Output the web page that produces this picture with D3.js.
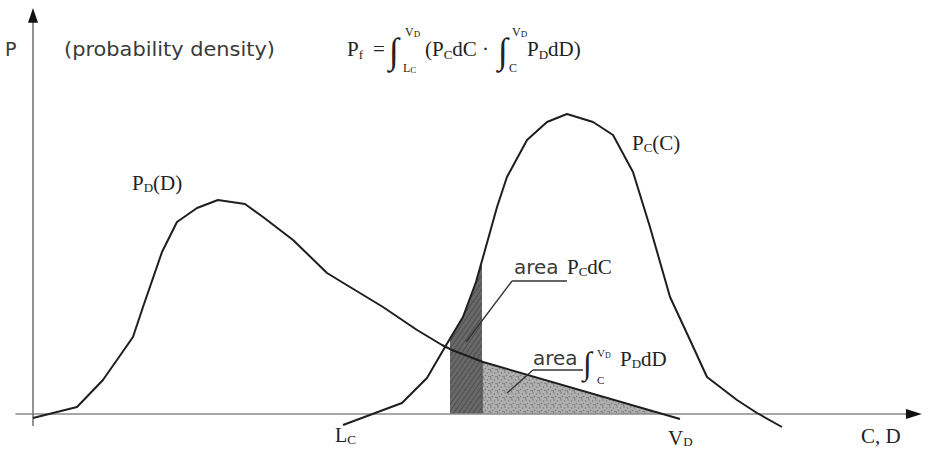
<!DOCTYPE html>
<html>
<head>
<meta charset="utf-8">
<script src="https://cdn.jsdelivr.net/npm/d3@7"></script>
<style>
  html, body { margin: 0; padding: 0; background: #fff; }
  svg { display: block; }
  .serif { font-family: "Liberation Serif", "Times New Roman", serif; fill: #222; }
  .sans { font-family: "DejaVu Sans", "Liberation Sans", sans-serif; fill: #3a3a3a; }
</style>
</head>
<body>
<svg id="chart" width="931" height="450"></svg>
<script>
// Probability density of the demand D (left curve)
const demandX = [0, 5.0, 7.95, 11.36, 12.5, 14.66, 16.36, 18.64, 21.02, 24.09, 26.14, 29.55, 33.41, 36.02, 39.77, 43.64, 46.48, 47.61, 51.14, 73.52];
const demandP = [-1, 1.75, 8.5, 19.25, 26.75, 40.5, 48, 51.5, 53.5, 52.5, 49.25, 43.5, 35.25, 31.75, 26.75, 21, 17.25, 16, 13, -1.25];

// Probability density of the capacity C (right curve)
const capacityX = [35.23, 41.93, 44.77, 46.82, 48.86, 50.34, 51.59, 52.73, 53.86, 56.14, 58.41, 60.68, 63.64, 65.91, 68.18, 70.11, 72.39, 74.66, 76.59, 80.0, 82.27, 85.11];
const capacityP = [-2.75, 2.75, 9, 16.75, 24.25, 33, 42.75, 51.75, 59.25, 68.5, 73, 75, 73, 69.75, 60.5, 46.75, 29.25, 18.5, 9.25, 3.5, 0.25, -3.25];

// Limits on the C, D axis
const lowerC = 35.23;   // L_C
const upperD = 73.52;   // V_D
const cStart = 47.39;   // C
const cEnd = 51.02;     // C + dC

const svg = d3.select("#chart");
const x = d3.scaleLinear().domain([0, 100]).range([33, 913]);
const y = d3.scaleLinear().domain([0, 100]).range([414, 14]);

const demand = demandX.map((v, i) => [v, demandP[i]]);
const capacity = capacityX.map((v, i) => [v, capacityP[i]]);

// Fill patterns
const defs = svg.append("defs");
const hatch = defs.append("pattern").attr("id", "hatch")
  .attr("patternUnits", "userSpaceOnUse").attr("width", 4).attr("height", 4)
  .attr("patternTransform", "rotate(35)");
hatch.append("rect").attr("width", 4).attr("height", 4).attr("fill", "#686868");
hatch.append("line").attr("x1", 0).attr("y1", 0).attr("x2", 0).attr("y2", 4)
  .attr("stroke", "#474747").attr("stroke-width", 1.6);

const stipple = defs.append("pattern").attr("id", "stipple")
  .attr("patternUnits", "userSpaceOnUse").attr("width", 7).attr("height", 7);
stipple.append("rect").attr("width", 7).attr("height", 7).attr("fill", "#b0b0b0");
[[1, 1], [4.5, 2], [2.5, 4.5], [6, 5.5], [0.5, 6]].forEach(([cx, cy]) =>
  stipple.append("circle").attr("cx", cx).attr("cy", cy).attr("r", 0.8).attr("fill", "#777"));

defs.append("clipPath").attr("id", "clipDC").append("rect")
  .attr("x", x(cStart)).attr("y", 0).attr("width", x(cEnd) - x(cStart)).attr("height", y(0));
defs.append("clipPath").attr("id", "clipTail").append("rect")
  .attr("x", x(cEnd)).attr("y", 0).attr("width", x(upperD) - x(cEnd)).attr("height", y(0));

const area = d3.area().x(d => x(d[0])).y0(y(0)).y1(d => y(d[1]));
const line = d3.line().x(d => x(d[0])).y(d => y(d[1]));

// Shaded areas: P_C dC strip and the demand tail beyond C
svg.append("path").datum(demand).attr("d", area)
  .attr("fill", "url(#stipple)").attr("clip-path", "url(#clipTail)");
svg.append("path").datum(capacity).attr("d", area)
  .attr("fill", "url(#hatch)").attr("clip-path", "url(#clipDC)");
svg.append("line")
  .attr("x1", x(cEnd)).attr("x2", x(cEnd))
  .attr("y1", y(0)).attr("y2", y(demandP[demandP.length - 2]) - 1)
  .attr("stroke", "#555").attr("stroke-width", 1.5);

// Axes
svg.append("line").attr("x1", x(-2)).attr("x2", x(100.2)).attr("y1", y(0)).attr("y2", y(0))
  .attr("stroke", "#8a8a8a").attr("stroke-width", 1.6);
svg.append("line").attr("x1", x(0)).attr("x2", x(0)).attr("y1", y(-3)).attr("y2", y(98))
  .attr("stroke", "#777").attr("stroke-width", 1.6);
svg.append("path")
  .attr("d", `M${x(101)},${y(0)} L${x(99.2)},${y(0) - 5} L${x(99.2)},${y(0) + 5} Z`)
  .attr("fill", "#111");
svg.append("path")
  .attr("d", `M${x(0)},${y(101.5)} L${x(0) - 5},${y(97.8)} L${x(0) + 5},${y(97.8)} Z`)
  .attr("fill", "#111");

// Density curves
svg.append("path").datum(demand).attr("d", line)
  .attr("fill", "none").attr("stroke", "#1e1e1e").attr("stroke-width", 2).attr("stroke-linejoin", "round");
svg.append("path").datum(capacity).attr("d", line)
  .attr("fill", "none").attr("stroke", "#1e1e1e").attr("stroke-width", 2).attr("stroke-linejoin", "round");

// Leader lines for the area labels
svg.append("line").attr("x1", 512).attr("y1", 281).attr("x2", 567).attr("y2", 281)
  .attr("stroke", "#333").attr("stroke-width", 1.4);
svg.append("line").attr("x1", 512).attr("y1", 281).attr("x2", 466).attr("y2", 342)
  .attr("stroke", "#333").attr("stroke-width", 1.4);
svg.append("line").attr("x1", 533).attr("y1", 370).attr("x2", 583).attr("y2", 370)
  .attr("stroke", "#333").attr("stroke-width", 1.4);
svg.append("line").attr("x1", 533).attr("y1", 370).attr("x2", 507).attr("y2", 393)
  .attr("stroke", "#333").attr("stroke-width", 1.4);

// Text helpers
function txt(cls, xp, yp, s, size, extra) {
  const t = svg.append("text").attr("class", cls).attr("x", xp).attr("y", yp)
    .attr("font-size", size).text(s);
  if (extra) extra(t);
  return t;
}

// Axis titles
txt("sans", 5, 56, "P", 19);
txt("sans", 64, 56, "(probability density)", 20, t => t.attr("textLength", 211).attr("lengthAdjust", "spacingAndGlyphs"));
txt("serif", 861, 443, "C, D", 21);
txt("serif", x(lowerC) - 8, 442, "L", 20).append("tspan").attr("font-size", 13).attr("dy", 2).text("C");
txt("serif", x(upperD) - 12, 445, "V", 21).append("tspan").attr("font-size", 13).attr("dy", 1).text("D");

// Curve labels
const pd = txt("serif", 132, 190, "P", 21);
pd.append("tspan").attr("font-size", 13).attr("dy", 2).text("D");
pd.append("tspan").attr("font-size", 21).attr("dy", -2).text("(D)");
const pc = txt("serif", 632, 150, "P", 21);
pc.append("tspan").attr("font-size", 13).attr("dy", 2).text("C");
pc.append("tspan").attr("font-size", 21).attr("dy", -2).text("(C)");

// Formula P_f
const f1 = txt("serif", 347, 56, "P", 21);
f1.append("tspan").attr("font-size", 13).attr("dy", 3).text("f");
txt("serif", 373, 56, "=", 21);
txt("serif", 389, 63, "\u222B", 36);
const s1 = txt("serif", 405, 36, "V", 12);
s1.append("tspan").attr("font-size", 9).attr("dy", 1).text("D");
const l1 = txt("serif", 403, 72, "L", 12);
l1.append("tspan").attr("font-size", 9).attr("dy", 1).text("C");
const f2 = txt("serif", 425, 56, "(P", 21);
f2.append("tspan").attr("font-size", 13).attr("dy", 3).text("C");
f2.append("tspan").attr("font-size", 21).attr("dy", -3).text("dC \u00B7");
txt("serif", 498, 63, "\u222B", 36);
const s2 = txt("serif", 512, 36, "V", 12);
s2.append("tspan").attr("font-size", 9).attr("dy", 1).text("D");
txt("serif", 509, 72, "C", 12);
const f3 = txt("serif", 527, 56, "P", 21);
f3.append("tspan").attr("font-size", 13).attr("dy", 3).text("D");
f3.append("tspan").attr("font-size", 21).attr("dy", -3).text("dD)");

// Area annotations
txt("sans", 514, 274, "area", 20);
const a1 = txt("serif", 567, 274, "P", 21);
a1.append("tspan").attr("font-size", 13).attr("dy", 2).text("C");
a1.append("tspan").attr("font-size", 21).attr("dy", -2).text("dC");

txt("sans", 533, 365, "area", 20);
txt("serif", 583, 374, "\u222B", 32);
const s3 = txt("serif", 597, 357, "V", 11);
s3.append("tspan").attr("font-size", 8).attr("dy", 1).text("D");
txt("serif", 597, 384, "C", 11);
const a2 = txt("serif", 620, 366, "P", 21);
a2.append("tspan").attr("font-size", 13).attr("dy", 2).text("D");
a2.append("tspan").attr("font-size", 21).attr("dy", -2).text("dD");
</script>
</body>
</html>
